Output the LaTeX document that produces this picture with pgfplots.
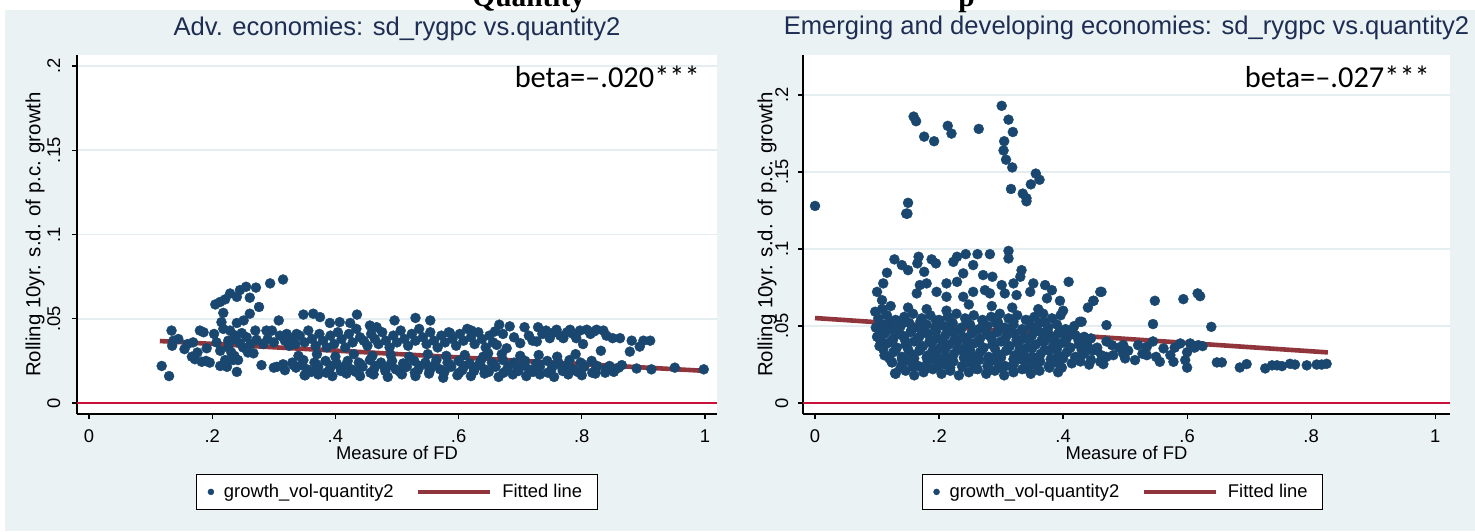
\documentclass[border=0pt]{standalone}
\usepackage{fontspec}
\setmainfont{Liberation Sans}
\newfontfamily\calibri{Carlito}
\newfontfamily\timesf{Liberation Serif}
\usepackage{pgfplots}
\usepackage{pgfplotstable}
\pgfplotsset{compat=1.18}
\definecolor{bg}{RGB}{234,242,243}
\definecolor{gridc}{RGB}{228,237,240}
\definecolor{navy}{RGB}{26,71,111}
\definecolor{maroon}{RGB}{144,53,59}
\definecolor{zred}{RGB}{200,16,56}
\definecolor{titlec}{RGB}{30,45,83}
\newcommand{\lf}{\fontsize{9.2}{11}\selectfont}

\pgfplotstableread{
x y
0.118 0.022
0.130 0.016
0.134 0.043
0.135 0.034
0.137 0.037
0.145 0.038
0.155 0.032
0.160 0.035
0.167 0.0275
0.169 0.036
0.172 0.026
0.176 0.030
0.180 0.043
0.183 0.0245
0.186 0.042
0.190 0.025
0.191 0.0325
0.196 0.024
0.203 0.041
0.205 0.0585
0.207 0.036
0.213 0.060
0.213 0.031
0.213 0.022
0.215 0.048
0.218 0.0535
0.218 0.044
0.221 0.0615
0.221 0.0255
0.224 0.0215
0.226 0.033
0.226 0.037
0.229 0.065
0.229 0.043
0.231 0.030
0.233 0.0375
0.234 0.0255
0.236 0.028
0.238 0.040
0.240 0.063
0.240 0.0475
0.240 0.0185
0.242 0.0255
0.245 0.067
0.245 0.0355
0.248 0.0415
0.250 0.033
0.251 0.049
0.255 0.069
0.256 0.039
0.258 0.030
0.261 0.0625
0.261 0.053
0.262 0.035
0.267 0.0295
0.270 0.043
0.271 0.0685
0.272 0.0375
0.276 0.057
0.280 0.0225
0.283 0.035
0.288 0.043
0.290 0.038
0.294 0.071
0.297 0.043
0.300 0.036
0.305 0.0215
0.308 0.049
0.310 0.040
0.315 0.0733
0.315 0.023
0.318 0.037
0.321 0.041
0.325 0.034
0.330 0.038
0.332 0.0225
0.337 0.041
0.348 0.0525
0.351 0.0165
0.364 0.053
0.375 0.051
0.391 0.0475
0.407 0.048
0.424 0.0475
0.435 0.0525
0.440 0.039
0.456 0.046
0.467 0.045
0.496 0.049
0.530 0.0505
0.554 0.049
0.335 0.035
0.342 0.040
0.350 0.036
0.356 0.043
0.362 0.038
0.368 0.034
0.374 0.041
0.380 0.037
0.386 0.033
0.392 0.040
0.398 0.035
0.404 0.042
0.410 0.038
0.416 0.033
0.422 0.041
0.428 0.036
0.434 0.044
0.446 0.037
0.452 0.034
0.458 0.041
0.464 0.038
0.470 0.035
0.476 0.042
0.482 0.037
0.488 0.033
0.494 0.040
0.500 0.036
0.506 0.043
0.512 0.038
0.518 0.034
0.524 0.041
0.530 0.037
0.536 0.044
0.542 0.039
0.548 0.035
0.554 0.042
0.560 0.037
0.566 0.033
0.572 0.040
0.578 0.036
0.584 0.042
0.586 0.0415
0.590 0.038
0.596 0.034
0.602 0.041
0.608 0.037
0.614 0.044
0.620 0.039
0.621 0.043
0.626 0.035
0.632 0.042
0.638 0.038
0.644 0.033
0.648 0.0295
0.650 0.040
0.656 0.036
0.659 0.0425
0.662 0.0345
0.666 0.0465
0.672 0.041
0.678 0.0325
0.683 0.0455
0.690 0.039
0.700 0.0355
0.707 0.045
0.714 0.040
0.720 0.037
0.727 0.0365
0.729 0.045
0.736 0.041
0.742 0.043
0.748 0.0385
0.755 0.042
0.759 0.0435
0.765 0.040
0.770 0.0385
0.776 0.042
0.781 0.0435
0.786 0.041
0.791 0.0385
0.797 0.043
0.802 0.035
0.808 0.0435
0.814 0.041
0.820 0.0425
0.824 0.0435
0.831 0.031
0.835 0.043
0.840 0.040
0.850 0.0385
0.862 0.0385
0.878 0.0305
0.881 0.037
0.894 0.0335
0.900 0.037
0.911 0.037
0.350 0.0165
0.372 0.017
0.395 0.016
0.418 0.0175
0.440 0.016
0.462 0.017
0.485 0.0155
0.508 0.017
0.530 0.016
0.552 0.0175
0.575 0.015
0.598 0.0165
0.620 0.016
0.642 0.0175
0.665 0.0155
0.688 0.017
0.710 0.016
0.732 0.017
0.755 0.0155
0.778 0.017
0.800 0.0165
0.822 0.0175
0.361 0.0185
0.385 0.018
0.409 0.019
0.433 0.0185
0.457 0.018
0.481 0.019
0.505 0.0185
0.529 0.018
0.553 0.019
0.577 0.0185
0.601 0.018
0.625 0.019
0.649 0.0185
0.673 0.018
0.697 0.019
0.721 0.0185
0.745 0.018
0.769 0.019
0.793 0.0185
0.817 0.018
0.300 0.021
0.318 0.0195
0.336 0.021
0.354 0.020
0.372 0.0215
0.390 0.0195
0.408 0.021
0.426 0.020
0.444 0.0215
0.462 0.0195
0.480 0.021
0.498 0.020
0.516 0.0215
0.534 0.0195
0.552 0.021
0.570 0.020
0.588 0.0215
0.606 0.0195
0.624 0.021
0.642 0.020
0.660 0.0215
0.678 0.0195
0.696 0.021
0.714 0.020
0.732 0.0215
0.750 0.0195
0.768 0.021
0.786 0.020
0.804 0.0215
0.822 0.0195
0.345 0.0225
0.369 0.023
0.393 0.022
0.417 0.0225
0.441 0.023
0.465 0.022
0.489 0.0225
0.513 0.023
0.537 0.022
0.561 0.0225
0.585 0.023
0.609 0.022
0.633 0.0225
0.657 0.023
0.681 0.022
0.705 0.0225
0.729 0.023
0.753 0.022
0.777 0.0225
0.801 0.023
0.825 0.022
0.330 0.024
0.348 0.0255
0.366 0.024
0.384 0.025
0.402 0.0235
0.420 0.025
0.438 0.024
0.456 0.0255
0.474 0.024
0.492 0.025
0.510 0.0235
0.528 0.025
0.546 0.024
0.564 0.0255
0.582 0.024
0.600 0.025
0.618 0.0235
0.636 0.025
0.654 0.024
0.672 0.0255
0.690 0.024
0.708 0.025
0.726 0.0235
0.744 0.025
0.762 0.024
0.780 0.0255
0.798 0.024
0.816 0.025
0.340 0.028
0.370 0.029
0.400 0.0275
0.430 0.029
0.460 0.028
0.490 0.0285
0.520 0.0275
0.550 0.029
0.580 0.028
0.610 0.0285
0.640 0.0275
0.670 0.029
0.700 0.028
0.730 0.0285
0.760 0.0275
0.790 0.029
0.838 0.018
0.845 0.022
0.840 0.0205
0.852 0.0185
0.860 0.021
0.865 0.0225
0.889 0.0205
0.913 0.020
0.951 0.021
0.998 0.020
}\leftdata

\pgfplotstableread{
x y
0.000 0.128
0.150 0.130
0.147 0.123
0.149 0.123
0.159 0.186
0.163 0.183
0.176 0.173
0.192 0.170
0.214 0.180
0.220 0.175
0.264 0.178
0.301 0.193
0.312 0.184
0.319 0.176
0.305 0.170
0.304 0.164
0.308 0.158
0.318 0.153
0.316 0.139
0.335 0.136
0.341 0.133
0.341 0.131
0.348 0.142
0.356 0.149
0.362 0.145
0.128 0.0933
0.140 0.0896
0.150 0.0863
0.116 0.0846
0.167 0.095
0.165 0.0907
0.188 0.0933
0.195 0.0907
0.176 0.0852
0.223 0.0917
0.229 0.095
0.243 0.0967
0.262 0.0967
0.282 0.0967
0.312 0.0988
0.312 0.0939
0.255 0.0896
0.239 0.0842
0.271 0.0831
0.286 0.082
0.333 0.0863
0.331 0.082
0.320 0.0777
0.352 0.0777
0.371 0.0766
0.409 0.0787
0.301 0.0766
0.229 0.0787
0.212 0.0777
0.180 0.0777
0.110 0.0777
0.100 0.0722
0.306 0.0712
0.325 0.0701
0.347 0.0722
0.382 0.0733
0.374 0.068
0.395 0.0664
0.449 0.0664
0.460 0.0722
0.108 0.0668
0.097 0.0593
0.239 0.069
0.255 0.0722
0.274 0.0733
0.282 0.0712
0.196 0.0722
0.212 0.069
0.164 0.0712
0.169 0.0766
0.427 0.0528
0.414 0.0258
0.124 0.0264
0.105 0.0474
0.129 0.0193
0.462 0.0722
0.449 0.0664
0.430 0.0528
0.470 0.0506
0.548 0.0664
0.545 0.0513
0.594 0.0675
0.617 0.0712
0.621 0.0694
0.639 0.0495
0.438 0.0376
0.454 0.0344
0.479 0.0376
0.497 0.0376
0.497 0.0322
0.481 0.0311
0.460 0.0268
0.465 0.0253
0.516 0.0279
0.521 0.0376
0.535 0.0365
0.535 0.0311
0.556 0.0268
0.562 0.0355
0.573 0.0311
0.578 0.0268
0.589 0.0387
0.597 0.0279
0.605 0.0387
0.618 0.0376
0.445 0.042
0.470 0.040
0.490 0.036
0.505 0.034
0.528 0.032
0.545 0.040
0.580 0.036
0.600 0.033
0.612 0.036
0.625 0.037
0.470 0.030
0.445 0.028
0.500 0.029
0.550 0.030
0.600 0.023
0.648 0.0264
0.656 0.0264
0.685 0.0231
0.696 0.0253
0.726 0.0225
0.737 0.0245
0.745 0.0245
0.753 0.024
0.766 0.0255
0.774 0.025
0.793 0.0245
0.809 0.025
0.817 0.025
0.825 0.0255
0.130 0.019
0.146 0.021
0.160 0.018
0.175 0.020
0.190 0.022
0.204 0.019
0.218 0.021
0.232 0.018
0.248 0.020
0.262 0.022
0.276 0.019
0.290 0.021
0.305 0.018
0.320 0.020
0.334 0.022
0.348 0.019
0.362 0.021
0.378 0.023
0.392 0.020
0.138 0.023
0.158 0.0235
0.178 0.0225
0.198 0.024
0.218 0.023
0.238 0.0235
0.258 0.0225
0.278 0.024
0.298 0.023
0.318 0.0235
0.338 0.0225
0.358 0.024
0.398 0.023
0.124 0.0265
0.140 0.025
0.153 0.027
0.167 0.024
0.181 0.026
0.195 0.028
0.209 0.025
0.223 0.027
0.237 0.024
0.251 0.026
0.265 0.028
0.279 0.025
0.293 0.027
0.307 0.024
0.321 0.026
0.335 0.028
0.349 0.025
0.363 0.027
0.377 0.024
0.391 0.026
0.428 0.027
0.442 0.025
0.120 0.029
0.140 0.0285
0.160 0.029
0.180 0.0295
0.200 0.0285
0.220 0.029
0.240 0.0295
0.260 0.0285
0.280 0.029
0.300 0.0295
0.320 0.0285
0.340 0.029
0.360 0.0295
0.380 0.0285
0.400 0.029
0.420 0.0295
0.112 0.031
0.126 0.033
0.140 0.030
0.154 0.032
0.168 0.034
0.182 0.031
0.196 0.033
0.210 0.030
0.224 0.032
0.238 0.034
0.252 0.031
0.266 0.033
0.280 0.030
0.294 0.032
0.308 0.034
0.322 0.031
0.336 0.033
0.350 0.030
0.364 0.032
0.378 0.034
0.392 0.031
0.406 0.033
0.420 0.030
0.434 0.032
0.448 0.034
0.462 0.031
0.110 0.035
0.130 0.0345
0.150 0.035
0.170 0.0355
0.190 0.0345
0.210 0.035
0.230 0.0355
0.250 0.0345
0.270 0.035
0.290 0.0355
0.310 0.0345
0.330 0.035
0.350 0.0355
0.370 0.0345
0.390 0.035
0.410 0.0355
0.430 0.0345
0.104 0.037
0.118 0.039
0.132 0.036
0.146 0.038
0.160 0.040
0.174 0.037
0.188 0.039
0.202 0.036
0.216 0.038
0.230 0.040
0.244 0.037
0.258 0.039
0.272 0.036
0.286 0.038
0.300 0.040
0.314 0.037
0.328 0.039
0.342 0.036
0.356 0.038
0.370 0.040
0.384 0.037
0.398 0.039
0.412 0.036
0.426 0.038
0.440 0.037
0.455 0.036
0.105 0.041
0.125 0.0405
0.145 0.041
0.165 0.0415
0.185 0.0405
0.205 0.041
0.225 0.0415
0.245 0.0405
0.265 0.041
0.285 0.0415
0.305 0.0405
0.325 0.041
0.345 0.0415
0.365 0.0405
0.385 0.041
0.405 0.0415
0.425 0.0405
0.100 0.043
0.112 0.045
0.126 0.042
0.140 0.044
0.154 0.046
0.168 0.043
0.182 0.045
0.196 0.042
0.210 0.044
0.224 0.046
0.238 0.043
0.252 0.045
0.266 0.042
0.280 0.044
0.294 0.046
0.308 0.043
0.322 0.045
0.336 0.042
0.350 0.044
0.364 0.046
0.378 0.043
0.392 0.045
0.406 0.042
0.420 0.044
0.434 0.043
0.115 0.047
0.135 0.0465
0.155 0.047
0.175 0.0475
0.195 0.0465
0.215 0.047
0.235 0.0475
0.255 0.0465
0.275 0.047
0.295 0.0475
0.315 0.0465
0.335 0.047
0.355 0.0475
0.375 0.0465
0.395 0.047
0.415 0.0475
0.098 0.049
0.110 0.051
0.124 0.048
0.138 0.050
0.152 0.052
0.166 0.049
0.180 0.051
0.194 0.048
0.208 0.050
0.222 0.052
0.236 0.049
0.250 0.051
0.264 0.048
0.278 0.050
0.292 0.052
0.306 0.049
0.320 0.051
0.334 0.048
0.348 0.050
0.362 0.052
0.376 0.049
0.390 0.051
0.404 0.048
0.418 0.050
0.120 0.053
0.145 0.0525
0.170 0.053
0.195 0.0535
0.220 0.0525
0.245 0.053
0.270 0.0535
0.295 0.0525
0.320 0.053
0.345 0.0535
0.370 0.0525
0.102 0.055
0.116 0.057
0.130 0.054
0.144 0.056
0.158 0.058
0.172 0.055
0.186 0.057
0.200 0.054
0.214 0.056
0.228 0.058
0.242 0.055
0.256 0.057
0.270 0.054
0.284 0.056
0.298 0.058
0.312 0.055
0.326 0.057
0.340 0.054
0.354 0.056
0.368 0.058
0.382 0.055
0.396 0.057
0.108 0.061
0.122 0.063
0.150 0.062
0.180 0.061
0.212 0.060
0.248 0.064
0.285 0.063
0.318 0.062
0.360 0.061
0.400 0.060
0.440 0.062
}\rightdata

\pgfplotsset{
  statastyle/.style={
    scale only axis,
    axis lines=left,
    axis line style={-, black, line width=0.6pt},
    axis background/.style={fill=white},
    tick align=outside,
    major tick length=2.5pt,
    tick style={black, line width=0.6pt},
    xtick={0,0.2,0.4,0.6,0.8,1},
    xticklabels={0,.2,.4,.6,.8,1},
    ytick={0,0.05,0.1,0.15,0.2},
    yticklabels={0,.05,.1,.15,.2},
    ymajorgrids,
    major grid style={gridc, line width=0.9pt},
    ticklabel style={font=\lf},
    xlabel style={font=\lf},
    ylabel style={font=\fontsize{10.2}{12}\selectfont},
    yticklabel style={rotate=90, anchor=base},
    xticklabel shift=2pt,
    xlabel={Measure of FD},
    ylabel={Rolling 10yr. s.d. of p.c. growth},
    title style={font=\fontsize{12.8}{15}\selectfont, text=titlec, at={(axis description cs:0.5,1)}, anchor=base, yshift=4pt},
    legend columns=2,
    legend style={draw=black, line width=0.5pt, fill=white, anchor=center,
      font=\lf,
      nodes={inner sep=2pt},
      inner xsep=5.5pt, inner ysep=2.5pt,
      /tikz/every odd column/.append style={column sep=3pt},
      /tikz/every even column/.append style={column sep=9pt}},
    height=179.5pt,
  },
  scat/.style={only marks, mark=*, mark size=2.5pt, navy,
      mark options={fill=navy, draw=navy, line width=0.2pt},
      legend image code/.code={\draw[##1, mark size=1.5pt] plot coordinates {(3pt,0pt)};}},
  fit/.style={maroon, line width=2.3pt, no marks,
      legend image code/.code={\draw[##1] (0pt,0pt) -- (36pt,0pt);}},
}

\begin{document}
\begin{tikzpicture}
\fill[white] (0,0) rectangle (737.5pt,265.5pt);
\fill[bg] (2.5pt,0) rectangle (737.5pt,260.5pt);
\useasboundingbox (0,0) rectangle (737.5pt,265.5pt);
\node[anchor=base west, font=\timesf\bfseries\fontsize{14.7}{17}\selectfont, inner sep=0pt] at (236pt,262pt) {Quantity};
\node[anchor=base west, font=\timesf\bfseries\fontsize{14.7}{17}\selectfont, inner sep=0pt] at (479pt,262pt) {p};

\begin{axis}[statastyle,
  at={(38.5pt,58.5pt)}, anchor=south west,
  width=320pt,
  xmin=-0.0195, xmax=1.0195, ymin=-0.0065, ymax=0.2065,
  yticklabel shift=6pt,
  xlabel style={at={(axis description cs:0.5,-0.1086)}, anchor=center},
  title={Adv. economies: sd\_rygpc vs.quantity2},
  ylabel style={at={(axis description cs:-0.0656,0.5)}, anchor=center},
  legend style={at={(0.5,-0.217)}},
]
\addplot[zred, line width=0.9pt, forget plot] coordinates {(-0.0195,0) (1.0195,0)};
\addplot[scat] table {\leftdata};
\addlegendentry{\lf growth\_vol-quantity2}
\addplot[fit] coordinates {(0.115,0.0368) (1.0,0.0191)};
\addlegendentry{\lf Fitted line}
\node[anchor=east, font=\calibri\fontsize{15.2}{18}\selectfont, inner sep=0pt] at (axis cs:0.992,0.1934) {beta=–.020***};
\end{axis}

\begin{axis}[statastyle,
  at={(401.5pt,58.5pt)}, anchor=south west,
  width=323.5pt,
  xmin=-0.0194, xmax=1.024, ymin=-0.0071, ymax=0.226,
  yticklabel shift=5pt,
  xlabel style={at={(axis description cs:0.5,-0.1086)}, anchor=center},
  title={Emerging and developing economies: sd\_rygpc vs.quantity2},
  ylabel style={at={(axis description cs:-0.0556,0.5)}, anchor=center},
  legend style={at={(0.494,-0.217)}},
]
\addplot[zred, line width=0.9pt, forget plot] coordinates {(-0.0194,0) (1.024,0)};
\addplot[scat] table {\rightdata};
\addlegendentry{\lf growth\_vol-quantity2}
\addplot[fit] coordinates {(0.0,0.0552) (0.827,0.0329)};
\addlegendentry{\lf Fitted line}
\node[anchor=east, font=\calibri\fontsize{15.2}{18}\selectfont, inner sep=0pt] at (axis cs:0.992,0.2116) {beta=–.027***};
\end{axis}
\end{tikzpicture}
\end{document}
